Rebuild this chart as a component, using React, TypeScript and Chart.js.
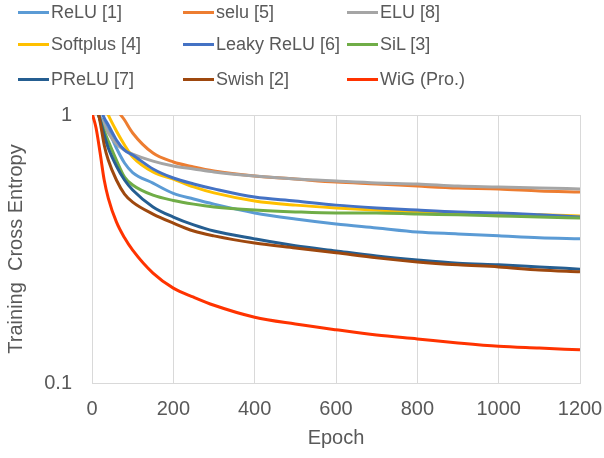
import React, { useEffect, useRef } from "react";
import { Chart, registerables } from "chart.js";

Chart.register(...registerables);

const epochs = [0, 10, 20, 30, 40, 60, 80, 100, 150, 200, 250, 300, 400, 500, 600, 700, 800, 900, 1000, 1100, 1200];
const reluLoss = [1.15, 1.044, 0.983, 0.934, 0.879, 0.753, 0.662, 0.61, 0.557, 0.51, 0.486, 0.465, 0.431, 0.409, 0.392, 0.379, 0.366, 0.36, 0.354, 0.348, 0.345];
const seluLoss = [2.2, 1.95, 1.7, 1.5, 1.3, 1.062, 0.958, 0.857, 0.721, 0.668, 0.64, 0.618, 0.592, 0.577, 0.562, 0.553, 0.543, 0.534, 0.53, 0.521, 0.516];
const eluLoss = [1.137, 1.062, 0.975, 0.918, 0.857, 0.779, 0.74, 0.715, 0.673, 0.645, 0.629, 0.613, 0.592, 0.577, 0.567, 0.558, 0.553, 0.543, 0.539, 0.534, 0.53];
const softplusLoss = [1.41, 1.294, 1.187, 1.09, 1.0, 0.872, 0.773, 0.697, 0.613, 0.577, 0.539, 0.512, 0.478, 0.461, 0.45, 0.442, 0.435, 0.431, 0.427, 0.424, 0.42];
const leakyLoss = [1.24, 1.137, 1.062, 0.975, 0.918, 0.807, 0.74, 0.709, 0.629, 0.582, 0.553, 0.53, 0.494, 0.478, 0.461, 0.45, 0.442, 0.435, 0.431, 0.424, 0.416];
const silLoss = [1.15, 1.062, 0.958, 0.872, 0.8, 0.679, 0.587, 0.548, 0.502, 0.48, 0.465, 0.454, 0.442, 0.435, 0.431, 0.431, 0.427, 0.424, 0.42, 0.416, 0.413];
const preluLoss = [1.15, 1.062, 0.958, 0.842, 0.753, 0.645, 0.572, 0.525, 0.454, 0.416, 0.389, 0.369, 0.345, 0.325, 0.311, 0.298, 0.288, 0.28, 0.276, 0.271, 0.266];
const swishLoss = [1.15, 1.109, 0.942, 0.773, 0.679, 0.572, 0.507, 0.473, 0.427, 0.395, 0.369, 0.354, 0.333, 0.319, 0.306, 0.293, 0.283, 0.276, 0.271, 0.264, 0.26];
const wigLoss = [1.017, 0.894, 0.721, 0.572, 0.49, 0.399, 0.348, 0.313, 0.257, 0.226, 0.209, 0.195, 0.176, 0.166, 0.158, 0.151, 0.146, 0.141, 0.137, 0.135, 0.133];

const seriesNames = ["ReLU [1]", "selu [5]", "ELU [8]", "Softplus [4]", "Leaky ReLU [6]", "SiL [3]", "PReLU [7]", "Swish [2]", "WiG (Pro.)"];
const seriesValues = [reluLoss, seluLoss, eluLoss, softplusLoss, leakyLoss, silLoss, preluLoss, swishLoss, wigLoss];
const seriesColors = ["#5B9BD5", "#ED7D31", "#A5A5A5", "#FFC000", "#4472C4", "#70AD47", "#255E91", "#9E480E", "#FF3300"];

const yTickValues = [0.1, 1];
const xTickStep = 200;

const legendCols = [18, 183, 347];
const legendRows = [12, 44, 79];

const TEXT = "#595959";
const GRID = "#D9D9D9";
const FONT = "'Liberation Sans', Arial, sans-serif";

export default function App() {
  const canvasRef = useRef<HTMLCanvasElement | null>(null);

  useEffect(() => {
    if (!canvasRef.current) return;
    const n = seriesNames.length;
    const chart = new Chart(canvasRef.current, {
      type: "line",
      data: {
        datasets: seriesNames.map((name, i) => ({
          label: name,
          data: epochs.map((e, k) => ({ x: e, y: seriesValues[i][k] })),
          borderColor: seriesColors[i],
          backgroundColor: seriesColors[i],
          borderWidth: 3,
          pointRadius: 0,
          cubicInterpolationMode: "monotone" as const,
          fill: false,
          order: n - 1 - i,
        })),
      },
      options: {
        responsive: false,
        maintainAspectRatio: false,
        animation: false,
        layout: { padding: { left: 0, top: 115, right: 24, bottom: 0 } },
        plugins: { legend: { display: false }, tooltip: { enabled: false } },
        scales: {
          x: {
            type: "linear",
            min: 0,
            max: 1200,
            ticks: { stepSize: xTickStep, color: TEXT, font: { family: FONT, size: 20 }, padding: 14, maxRotation: 0, callback: (v: any) => String(v) },
            grid: { color: GRID, drawTicks: false, lineWidth: 1 },
            border: { color: GRID },
            title: { display: true, text: "Epoch", color: TEXT, font: { family: FONT, size: 20 }, padding: { top: 0, bottom: 8 } },
            afterFit: (s: any) => { s.height = 75; s.paddingLeft = 0; s.paddingRight = 0; },
          },
          y: {
            type: "logarithmic",
            min: 0.1,
            max: 1,
            afterBuildTicks: (s: any) => { s.ticks = yTickValues.map((v) => ({ value: v })); },
            ticks: { color: TEXT, font: { family: FONT, size: 20 }, padding: 20, callback: (v: any) => String(v) },
            grid: { color: GRID, drawTicks: false, lineWidth: 1 },
            border: { color: GRID },
            title: { display: true, text: "Training  Cross Entropy", color: TEXT, font: { family: FONT, size: 20 }, padding: { top: 4, bottom: 0 } },
            afterFit: (s: any) => { s.width = 92; s.paddingTop = 0; s.paddingBottom = 0; },
          },
        },
      },
    });
    return () => chart.destroy();
  }, []);

  return (
    <div style={{ position: "absolute", left: 0, top: 0, width: 604, height: 458, background: "#fff", overflow: "hidden" }}>
      <canvas ref={canvasRef} width={604} height={458} style={{ position: "absolute", left: 0, top: 0, width: 604, height: 458 }} />
      {seriesNames.map((name, i) => {
        const col = i % 3;
        const row = Math.floor(i / 3);
        return (
          <div key={name} style={{ position: "absolute", left: legendCols[col], top: legendRows[row] - 12, height: 24, display: "flex", alignItems: "center", whiteSpace: "nowrap" }}>
            <span style={{ display: "inline-block", width: 31, height: 3, background: seriesColors[i], marginRight: 2 }} />
            <span style={{ fontFamily: FONT, fontSize: 18, color: TEXT, lineHeight: "24px" }}>{name}</span>
          </div>
        );
      })}
    </div>
  );
}
